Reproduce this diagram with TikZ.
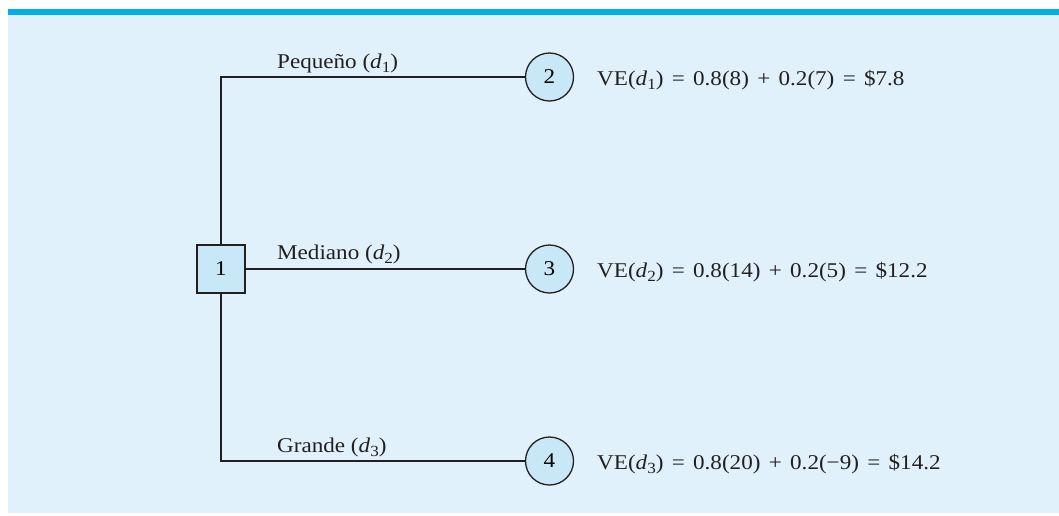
\documentclass[tikz,border=0pt]{standalone}
\usepackage{graphicx}
\usepackage{fontspec}
\setmainfont{Liberation Serif}
\definecolor{bgblue}{HTML}{E0F1FB}
\definecolor{barblue}{HTML}{00AEEF}
\definecolor{nodeblue}{HTML}{C8E8F8}
\definecolor{ink}{HTML}{231F20}
\newcommand{\widetxt}[1]{\scalebox{1.1}[1]{#1}}
\newcommand{\opsp}{\hspace{0.36em}}
\newcommand{\dsub}[1]{\textit{d}\raisebox{-0.2em}{\fontsize{15.5}{16}\selectfont #1}}
\begin{document}
\begin{tikzpicture}[x=1pt,y=-1pt,
  decbox/.style={draw=ink,line width=1.3pt,fill=nodeblue,minimum size=48pt,inner sep=0pt,font=\fontsize{21}{22}\selectfont},
  chance/.style={circle,draw=ink,line width=1.3pt,fill=nodeblue,minimum size=48pt,inner sep=0pt,font=\fontsize{21}{22}\selectfont},
  branch/.style={draw=ink,line width=1.3pt},
  lbl/.style={anchor=base west,inner sep=0pt,text=ink,font=\fontsize{21}{22}\selectfont},
  ev/.style={anchor=base west,inner sep=0pt,text=ink,font=\fontsize{21}{22}\selectfont}]
\useasboundingbox (0,0) rectangle (1059,515);
\fill[bgblue] (8,15) rectangle (1059,513);
\fill[barblue] (8,9) rectangle (1059,15);
\node[decbox] (n1) at (221,269) {\widetxt{1}};
\node[chance] (n2) at (549.5,77) {\widetxt{2}};
\node[chance] (n3) at (549.5,269) {\widetxt{3}};
\node[chance] (n4) at (549.5,461) {\widetxt{4}};
\coordinate (t) at (221,77);
\coordinate (b) at (221,461);
\draw[branch] (n1.north) -- (t) -- (n2.west);
\draw[branch] (n1.east) -- (n3.west);
\draw[branch] (n1.south) -- (b) -- (n4.west);
\node[lbl] (l1) at (277,68) {\widetxt{Pequeño (\dsub{1})}};
\node[lbl] (l2) at (277,259) {\widetxt{Mediano (\dsub{2})}};
\node[lbl] (l3) at (277,452) {\widetxt{Grande (\dsub{3})}};
\node[ev] (e1) at (597,85) {\widetxt{VE(\dsub{1})\opsp=\opsp0.8(8)\opsp+\opsp0.2(7)\opsp=\opsp\$7.8}};
\node[ev] (e2) at (597,277) {\widetxt{VE(\dsub{2})\opsp=\opsp0.8(14)\opsp+\opsp0.2(5)\opsp=\opsp\$12.2}};
\node[ev] (e3) at (597,469) {\widetxt{VE(\dsub{3})\opsp=\opsp0.8(20)\opsp+\opsp0.2(−9)\opsp=\opsp\$14.2}};
\end{tikzpicture}
\end{document}
